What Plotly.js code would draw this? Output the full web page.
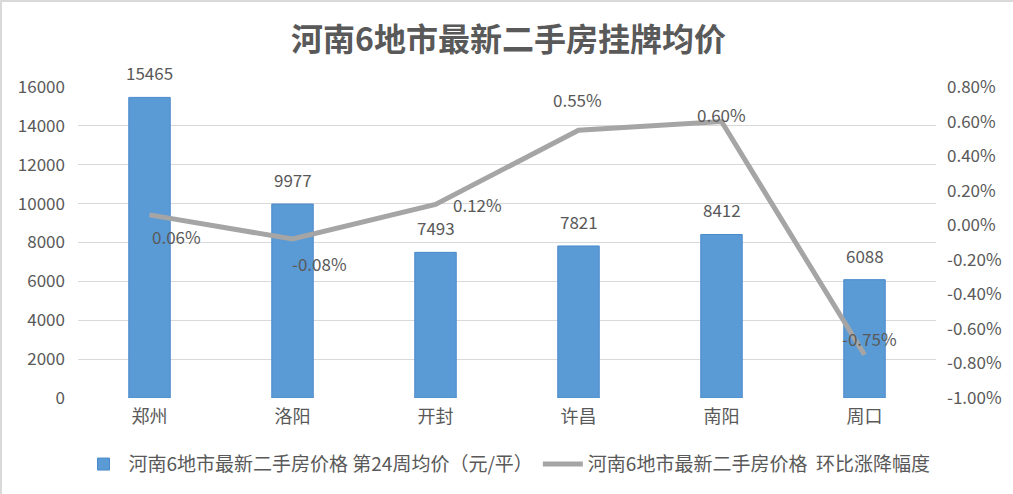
<!DOCTYPE html>
<html><head><meta charset="utf-8">
<script src="https://cdn.plot.ly/plotly-3.0.1.min.js"></script>
<style>html,body{margin:0;padding:0;background:#fff;}#chart{width:1013px;height:494px;box-sizing:border-box;border:2px solid #d9d9d9;}</style>
</head><body><div id="chart"></div>
<script>
const categories = ['郑州','洛阳','开封','许昌','南阳','周口'];
const prices = [15465, 9977, 7493, 7821, 8412, 6088];
const changes = [0.06, -0.08, 0.12, 0.55, 0.60, -0.75];
const priceName = '河南6地市最新二手房价格 第24周均价（元/平）';
const changeName = '河南6地市最新二手房价格  环比涨降幅度';
const leftTicks = [0,2000,4000,6000,8000,10000,12000,14000,16000];
const rightTicks = [-1.0,-0.8,-0.6,-0.4,-0.2,0,0.2,0.4,0.6,0.8];

const font = 'Microsoft YaHei, "Noto Sans CJK SC", "Noto Sans", sans-serif';
const grey = '#595959';

const traces = [
  {type:'bar', x:categories, y:prices, name:priceName,
   marker:{color:'#5B9BD5', line:{color:'#4a8acb', width:1}}, hoverinfo:'none'},
  {type:'scatter', mode:'lines', x:categories, y:changes, yaxis:'y2', name:changeName,
   line:{color:'#A5A5A5', width:5}, hoverinfo:'none'}
];

const anns = [];
categories.forEach((c,i)=>{
  anns.push({x:c, y:prices[i], xref:'x', yref:'y', text:String(prices[i]), showarrow:false,
    yanchor:'bottom', yshift:10, font:{size:17, color:grey, family:font}});
});
const shifts = [[27,-22],[27,-24],[42,0],[-1,31],[0,7],[5,16]];
categories.forEach((c,i)=>{
  anns.push({x:c, y:changes[i], xref:'x', yref:'y2', text:changes[i].toFixed(2)+'%', showarrow:false,
    xshift:shifts[i][0], yshift:shifts[i][1], font:{size:17, color:grey, family:font}});
});

const layout = {
  width:1013, height:494,
  margin:{l:76, r:79, t:85, b:98},
  paper_bgcolor:'#fff', plot_bgcolor:'#fff',
  title:{text:'<b>河南6地市最新二手房挂牌均价</b>', x:0.5, xanchor:'center', y:1-38/494, yanchor:'middle',
    font:{size:32, color:grey, family:'"Noto Sans CJK SC", serif'}},
  font:{family:font, color:grey, size:17},
  bargap:0.71,
  showlegend:true,
  legend:{orientation:'h', x:0.5, xanchor:'center', y:(396-462)/310, yanchor:'middle',
    font:{size:19, color:grey, family:font}, itemwidth:40, traceorder:'normal'},
  xaxis:{type:'category', showgrid:false, zeroline:false, showline:false, ticks:'',
    tickfont:{size:18, color:grey}, ticklabelstandoff:6},
  yaxis:{range:[0,16000], tickvals:leftTicks, ticktext:leftTicks.map(String), showgrid:true, gridcolor:'#D9D9D9', gridwidth:1,
    zeroline:false, showline:false, ticks:'', ticklabelstandoff:12, tickfont:{size:17, color:grey}},
  yaxis2:{overlaying:'y', side:'right', range:[-1.0,0.8], tickvals:rightTicks, ticktext:rightTicks.map(v=>v.toFixed(2)+'%'),
    showgrid:false, zeroline:false, showline:false, ticks:'', ticklabelstandoff:10, tickfont:{size:17, color:grey}},
  annotations:anns
};
Plotly.newPlot('chart', traces, layout, {displayModeBar:false, staticPlot:true});
</script></body></html>
